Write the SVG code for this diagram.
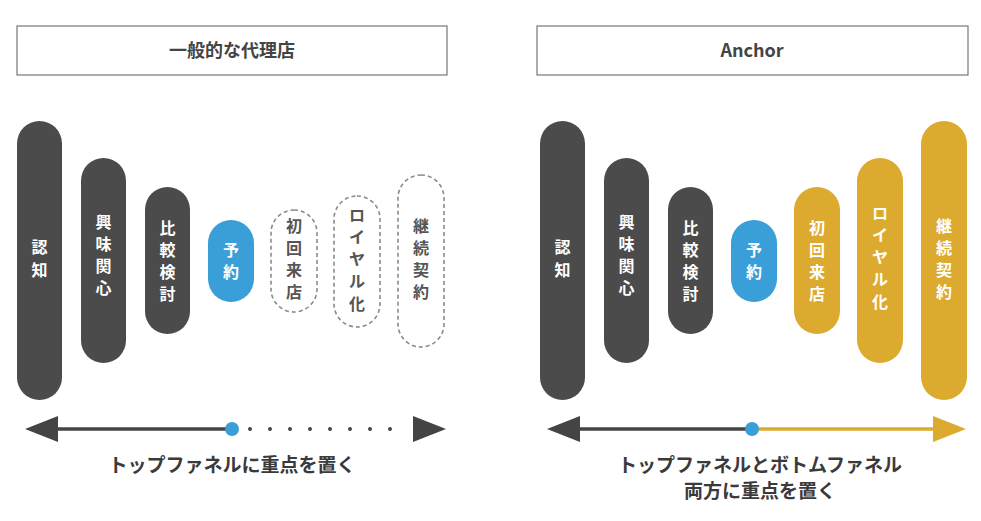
<svg xmlns="http://www.w3.org/2000/svg" width="981" height="521" viewBox="0 0 981 521">
<style>
text{font-family:"Noto Sans CJK JP","Liberation Sans",sans-serif;font-weight:bold}
.d{fill:#4b4b4b}.b{fill:#3a9fd8}.g{fill:#dcaa2f}
.x{fill:none;stroke:#8a8a8a;stroke-width:1.6;stroke-dasharray:4 3}
.pt{fill:#fff;font-size:16px;text-anchor:middle}
.pd{fill:#555;font-size:16px;text-anchor:middle}
.hd{fill:#444;font-size:18px;text-anchor:middle}
.cap{fill:#3a3a3a;font-size:19px;text-anchor:middle}
</style>
<rect width="981" height="521" fill="#fff"/>
<g id="header-left"><rect x="17" y="26" width="430" height="49" fill="#fff" stroke="#777" stroke-width="1.2"/><text class="hd" x="232" y="57">一般的な代理店</text></g>
<g id="header-right"><rect x="537" y="26" width="431" height="49" fill="#fff" stroke="#777" stroke-width="1.2"/><text class="hd" x="752" y="57">Anchor</text></g>

<g id="L-ninchi"><rect class="d" x="17" y="121" width="45" height="279" rx="22.5"/><text class="pt"><tspan x="39.5" y="253">認</tspan><tspan x="39.5" y="276">知</tspan></text></g>
<g id="L-kyomi"><rect class="d" x="81" y="158" width="45" height="205" rx="22.5"/><text class="pt"><tspan x="103.5" y="228">興</tspan><tspan x="103.5" y="250">味</tspan><tspan x="103.5" y="272">関</tspan><tspan x="103.5" y="294">心</tspan></text></g>
<g id="L-hikaku"><rect class="d" x="145" y="187" width="45" height="147" rx="22.5"/><text class="pt"><tspan x="167.5" y="234">比</tspan><tspan x="167.5" y="256">較</tspan><tspan x="167.5" y="278">検</tspan><tspan x="167.5" y="300">討</tspan></text></g>
<g id="L-yoyaku"><rect class="b" x="208" y="220" width="46" height="82" rx="23"/><text class="pt"><tspan x="231" y="256">予</tspan><tspan x="231" y="278">約</tspan></text></g>
<g id="L-shokai"><rect class="x" x="271" y="210" width="46" height="102" rx="23"/><text class="pd"><tspan x="294" y="232">初</tspan><tspan x="294" y="254">回</tspan><tspan x="294" y="276">来</tspan><tspan x="294" y="298">店</tspan></text></g>
<g id="L-royal"><rect class="x" x="334" y="196" width="46" height="131" rx="23"/><text class="pd"><tspan x="357" y="221">ロ</tspan><tspan x="357" y="243">イ</tspan><tspan x="357" y="265">ヤ</tspan><tspan x="357" y="287">ル</tspan><tspan x="357" y="310">化</tspan></text></g>
<g id="L-keizoku"><rect class="x" x="398" y="175" width="46" height="172" rx="23"/><text class="pd"><tspan x="421" y="232">継</tspan><tspan x="421" y="254">続</tspan><tspan x="421" y="276">契</tspan><tspan x="421" y="298">約</tspan></text></g>

<g id="R-ninchi"><rect class="d" x="540" y="121" width="45" height="279" rx="22.5"/><text class="pt"><tspan x="562.5" y="253">認</tspan><tspan x="562.5" y="276">知</tspan></text></g>
<g id="R-kyomi"><rect class="d" x="604" y="158" width="45" height="205" rx="22.5"/><text class="pt"><tspan x="626.5" y="228">興</tspan><tspan x="626.5" y="250">味</tspan><tspan x="626.5" y="272">関</tspan><tspan x="626.5" y="294">心</tspan></text></g>
<g id="R-hikaku"><rect class="d" x="668" y="187" width="45" height="147" rx="22.5"/><text class="pt"><tspan x="690.5" y="234">比</tspan><tspan x="690.5" y="256">較</tspan><tspan x="690.5" y="278">検</tspan><tspan x="690.5" y="300">討</tspan></text></g>
<g id="R-yoyaku"><rect class="b" x="731" y="220" width="46" height="82" rx="23"/><text class="pt"><tspan x="754" y="256">予</tspan><tspan x="754" y="278">約</tspan></text></g>
<g id="R-shokai"><rect class="g" x="794" y="187" width="46" height="147" rx="23"/><text class="pt"><tspan x="817" y="234">初</tspan><tspan x="817" y="256">回</tspan><tspan x="817" y="278">来</tspan><tspan x="817" y="300">店</tspan></text></g>
<g id="R-royal"><rect class="g" x="857" y="158" width="46" height="205" rx="23"/><text class="pt"><tspan x="880" y="219">ロ</tspan><tspan x="880" y="241">イ</tspan><tspan x="880" y="263">ヤ</tspan><tspan x="880" y="285">ル</tspan><tspan x="880" y="308">化</tspan></text></g>
<g id="R-keizoku"><rect class="g" x="921" y="121" width="46" height="279" rx="23"/><text class="pt"><tspan x="944" y="232">継</tspan><tspan x="944" y="254">続</tspan><tspan x="944" y="276">契</tspan><tspan x="944" y="298">約</tspan></text></g>

<g id="connectors">
<line x1="55" y1="429" x2="232" y2="429" stroke="#444" stroke-width="3.5"/>
<polygon points="25,429 58,416 58,442" fill="#444"/>
<line x1="250" y1="429" x2="402" y2="429" stroke="#444" stroke-width="4" stroke-linecap="round" stroke-dasharray="0 20"/>
<polygon points="446,429 413,416 413,442" fill="#444"/>
<circle cx="232" cy="429" r="7" fill="#3a9fd8"/>
<line x1="575" y1="429" x2="752" y2="429" stroke="#444" stroke-width="3.5"/>
<polygon points="547,429 580,416 580,442" fill="#444"/>
<line x1="752" y1="429" x2="935" y2="429" stroke="#dcaa2f" stroke-width="3.5"/>
<polygon points="966,429 933,416 933,442" fill="#dcaa2f"/>
<circle cx="752" cy="429" r="7" fill="#3a9fd8"/>
</g>
<g id="captions">
<text class="cap" x="232" y="472">トップファネルに重点を置く</text>
<text class="cap" x="760" y="472">トップファネルとボトムファネル</text>
<text class="cap" x="760" y="498">両方に重点を置く</text>
</g>
</svg>
